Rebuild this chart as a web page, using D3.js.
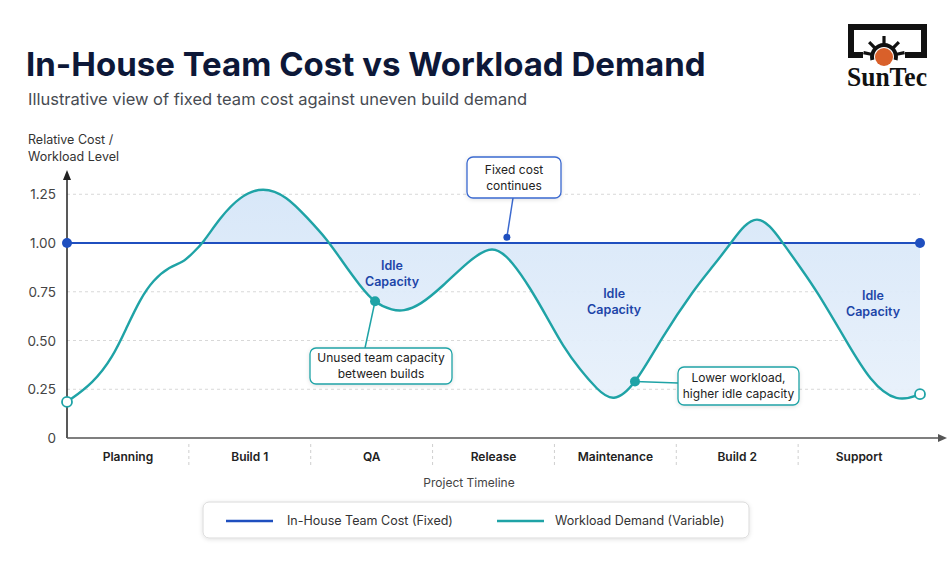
<!DOCTYPE html>
<html>
<head>
<meta charset="utf-8">
<script src="https://cdn.jsdelivr.net/npm/d3@7"></script>
<style>
  html, body { margin: 0; padding: 0; background: #ffffff; }
  svg { display: block; font-family: Inter, "Open Sans", sans-serif; }
</style>
</head>
<body>
<svg id="chart" width="952" height="562"></svg>
<script>
// ---------------- data ----------------
const categories = ["Planning", "Build 1", "QA", "Release", "Maintenance", "Build 2", "Support"];
const yTicks = [0, 0.25, 0.5, 0.75, 1.0, 1.25];
const yTickLabels = ["0", "0.25", "0.50", "0.75", "1.00", "1.25"];
// timeline position (in category units, 0..7) and workload demand level
const timeline = [0, 0.213, 0.377, 0.492, 0.599, 0.706, 0.845, 0.952, 1.034, 1.116, 1.256, 1.420,
  1.608, 1.805, 1.970, 2.134, 2.265, 2.405, 2.528, 2.675, 2.757, 2.897, 3.086, 3.283, 3.496,
  3.660, 3.800, 3.939, 4.070, 4.210, 4.349, 4.481, 4.661, 4.875, 5.154, 5.301, 5.449, 5.662,
  5.876, 6.023, 6.147, 6.393, 6.590, 6.811, 7.0];
const workload = [0.185, 0.28, 0.415, 0.57, 0.71, 0.81, 0.88, 0.90, 0.95, 1.0, 1.13, 1.24,
  1.29, 1.24, 1.13, 1.02, 0.90, 0.78, 0.69, 0.655, 0.65, 0.68, 0.78, 0.90, 1.0,
  0.90, 0.77, 0.62, 0.47, 0.35, 0.25, 0.18, 0.27, 0.51, 0.77, 0.88, 1.0, 1.18,
  1.0, 0.87, 0.76, 0.50, 0.29, 0.18, 0.225];
const fixedCost = [1.0, 1.0];          // start and end of timeline
const fixedCostTimeline = [0, 7];
const idleLabels = [
  { t: 2.667, v: 0.86 },
  { t: 4.49, v: 0.72 },
  { t: 6.614, v: 0.71 }
];
const seriesNames = ["In-House Team Cost (Fixed)", "Workload Demand (Variable)"];

// ---------------- setup ----------------
const svg = d3.select("#chart");
const W = 952, H = 562;
const BLUE = "#1f4fbf", TEAL = "#1fa3a6";
const x0 = 67, x1 = 920, yBase = 438;

const x = d3.scaleLinear().domain([0, 7]).range([x0, x1]);
const y = d3.scaleLinear().domain([0, 1.25]).range([yBase, yBase - 195 * 1.25]);
const band = d3.scaleBand().domain(categories).range([x0, x1]);
const smooth = d3.curveBasis;

const defs = svg.append("defs");
const shadow = defs.append("filter").attr("id", "shadow").attr("x", "-10%").attr("y", "-30%").attr("width", "120%").attr("height", "160%");
shadow.append("feDropShadow").attr("dx", 0).attr("dy", 1).attr("stdDeviation", 2).attr("flood-color", "#000").attr("flood-opacity", 0.12);
const fillGrad = defs.append("linearGradient").attr("id", "fillGrad").attr("x1", 0).attr("y1", 0).attr("x2", 0).attr("y2", 1);
fillGrad.append("stop").attr("offset", "0%").attr("stop-color", "#d6e6f8");
fillGrad.append("stop").attr("offset", "100%").attr("stop-color", "#e8f1fb");

// ---------------- title ----------------
svg.append("text").attr("x", 26).attr("y", 76)
  .attr("font-size", 33).attr("font-weight", 700).attr("fill", "#0d1838")
  .text("In-House Team Cost vs Workload Demand");
svg.append("text").attr("x", 28).attr("y", 105)
  .attr("font-size", 16.5).attr("fill", "#474b52")
  .text("Illustrative view of fixed team cost against uneven build demand");

// ---------------- logo ----------------
const logo = svg.append("g").attr("class", "logo");
logo.append("path")
  .attr("d", "M848,24 H927 V58 H905 V52 H921 V30 H854 V52 H863 V58 H848 Z")
  .attr("fill", "#111");
const cx = 884, cy = 57;
[-90, -45, -135, -12, -168].forEach(a => {
  const r = a * Math.PI / 180;
  logo.append("line")
    .attr("x1", cx + Math.cos(r) * 13).attr("y1", cy + Math.sin(r) * 13)
    .attr("x2", cx + Math.cos(r) * 21).attr("y2", cy + Math.sin(r) * 21)
    .attr("stroke", "#111").attr("stroke-width", 3.2);
});
logo.append("path")
  .attr("d", d3.arc().innerRadius(10).outerRadius(14).startAngle(-Math.PI / 2 - 0.25).endAngle(Math.PI / 2 + 0.25)())
  .attr("transform", `translate(${cx},${cy})`).attr("fill", "#111");
logo.append("circle").attr("cx", cx).attr("cy", cy).attr("r", 9).attr("fill", "#d9602a");
logo.append("text").attr("x", 847).attr("y", 86)
  .attr("font-family", "'Liberation Serif', 'DejaVu Serif', serif").attr("font-weight", 700)
  .attr("font-size", 28).attr("fill", "#111")
  .attr("textLength", 80).attr("lengthAdjust", "spacingAndGlyphs")
  .text("SunTec");

// ---------------- y axis title ----------------
svg.append("text").attr("x", 28).attr("y", 144).attr("font-size", 12.5).attr("fill", "#333").text("Relative Cost /");
svg.append("text").attr("x", 28).attr("y", 161).attr("font-size", 12.5).attr("fill", "#333").text("Workload Level");

// ---------------- grid ----------------
svg.append("g").selectAll("line").data(yTicks.filter(d => d !== 0 && d !== 1))
  .join("line")
  .attr("x1", x0).attr("x2", x1)
  .attr("y1", d => y(d)).attr("y2", d => y(d))
  .attr("stroke", "#d8d8d8").attr("stroke-dasharray", "3,3").attr("stroke-width", 1);

// y tick labels
svg.append("g").selectAll("text").data(yTicks)
  .join("text")
  .attr("x", 56).attr("y", d => y(d) + 5)
  .attr("text-anchor", "end").attr("font-size", 13.5).attr("fill", "#444")
  .text((d, i) => yTickLabels[i]);

// category separators and labels
svg.append("g").selectAll("line").data(categories.slice(1))
  .join("line")
  .attr("x1", d => band(d)).attr("x2", d => band(d))
  .attr("y1", yBase + 6).attr("y2", yBase + 30)
  .attr("stroke", "#cfcfcf").attr("stroke-dasharray", "3,3");
svg.append("g").selectAll("text").data(categories)
  .join("text")
  .attr("x", d => band(d) + band.bandwidth() / 2).attr("y", 461)
  .attr("text-anchor", "middle").attr("font-size", 12).attr("font-weight", 600).attr("fill", "#222")
  .text(d => d);
svg.append("text").attr("x", 469).attr("y", 487).attr("text-anchor", "middle")
  .attr("font-size", 12).attr("fill", "#444").text("Project Timeline");

// ---------------- idle capacity fill ----------------
const pts = timeline.map((t, i) => ({ t, v: workload[i] }));
const fillLayer = svg.append("g");

// ---------------- axes ----------------
svg.append("line").attr("x1", x0).attr("x2", x0).attr("y1", yBase).attr("y2", 176)
  .attr("stroke", "#222").attr("stroke-width", 1.5);
svg.append("path").attr("d", `M${x0 - 4},${180} L${x0},${170} L${x0 + 4},${180} Z`).attr("fill", "#222");
svg.append("line").attr("x1", x0).attr("x2", 940).attr("y1", yBase).attr("y2", yBase)
  .attr("stroke", "#555").attr("stroke-width", 1.5);
svg.append("path").attr("d", `M938,${yBase - 4} L947,${yBase} L938,${yBase + 4} Z`).attr("fill", "#555");

// ---------------- lines ----------------
const fixedPts = fixedCostTimeline.map((t, i) => ({ t, v: fixedCost[i] }));
svg.append("path").datum(fixedPts)
  .attr("d", d3.line().x(d => x(d.t)).y(d => y(d.v)))
  .attr("stroke", BLUE).attr("stroke-width", 2.2).attr("fill", "none");
const workPath = svg.append("path").datum(pts)
  .attr("d", d3.line().curve(smooth).x(d => x(d.t)).y(d => y(d.v)))
  .attr("stroke", TEAL).attr("stroke-width", 2.4).attr("fill", "none");

// sample the drawn curve
const node = workPath.node();
const L = node.getTotalLength();
const samples = [];
for (let s = 0; s <= L; s += 0.5) samples.push(node.getPointAtLength(s));
const curveYAt = px => samples.reduce((a, b) => Math.abs(b.x - px) < Math.abs(a.x - px) ? b : a).y;

// fill starts where workload first reaches the fixed-cost level
const cross = samples.find(p => p.y <= y(1));
const crossX = cross ? cross.x : x0;
defs.append("clipPath").attr("id", "fillClip")
  .append("rect").attr("x", crossX).attr("y", 0).attr("width", x(7) - crossX).attr("height", H);
fillLayer.append("path").datum(pts)
  .attr("clip-path", "url(#fillClip)")
  .attr("d", d3.area().curve(smooth).x(d => x(d.t)).y0(y(1)).y1(d => y(d.v)))
  .attr("fill", "url(#fillGrad)").attr("opacity", 0.95);

svg.append("g").selectAll("circle").data(fixedPts).join("circle")
  .attr("cx", d => x(d.t)).attr("cy", d => y(d.v)).attr("r", 5).attr("fill", BLUE);
svg.append("g").selectAll("circle").data([pts[0], pts[pts.length - 1]]).join("circle")
  .attr("cx", d => x(d.t)).attr("cy", d => y(d.v)).attr("r", 5)
  .attr("fill", "#fff").attr("stroke", TEAL).attr("stroke-width", 1.8);

// idle labels
idleLabels.forEach(l => {
  const g = svg.append("text").attr("text-anchor", "middle").attr("font-size", 12.5)
    .attr("font-weight", 600).attr("fill", "#1d45a8");
  g.append("tspan").attr("x", x(l.t)).attr("y", y(l.v)).text("Idle");
  g.append("tspan").attr("x", x(l.t)).attr("y", y(l.v) + 16).text("Capacity");
});

// ---------------- annotations ----------------
function callout(anchor, box, lines, color, dotR, dotColor, attach) {
  const ax = x(anchor.t);
  const ay = anchor.onCurve ? curveYAt(ax) : y(anchor.v);
  let lx, ly;
  if (attach === "bottom") { lx = box.x + box.w / 2 - 1; ly = box.y + box.h; }
  else if (attach === "top") { lx = box.x + 55; ly = box.y; }
  else { lx = box.x; ly = box.y + box.h / 2 - 3; }
  svg.append("line").attr("x1", ax).attr("y1", ay).attr("x2", lx).attr("y2", ly)
    .attr("stroke", color).attr("stroke-width", 1.5);
  svg.append("rect").attr("x", box.x).attr("y", box.y).attr("width", box.w).attr("height", box.h)
    .attr("rx", 6).attr("fill", "#fff").attr("stroke", color).attr("stroke-width", 1.3)
    .attr("filter", "url(#shadow)");
  const t = svg.append("text").attr("text-anchor", "middle").attr("font-size", 12).attr("fill", "#222");
  lines.forEach((s, i) => t.append("tspan").attr("x", box.x + box.w / 2)
    .attr("y", box.y + box.h / 2 - 4 + i * 16 - (lines.length - 1) * 8 + 8).text(s));
  svg.append("circle").attr("cx", ax).attr("cy", ay).attr("r", dotR).attr("fill", dotColor);
}
callout({ t: 3.61, v: 1.03 }, { x: 467, y: 157, w: 94, h: 41 }, ["Fixed cost", "continues"], "#3b69cf", 3.5, BLUE, "bottom");
callout({ t: 2.528, onCurve: true }, { x: 310, y: 348, w: 142, h: 36 }, ["Unused team capacity", "between builds"], TEAL, 5, TEAL, "top");
callout({ t: 4.661, onCurve: true }, { x: 678, y: 367, w: 121, h: 38 }, ["Lower workload,", "higher idle capacity"], TEAL, 5, TEAL, "left");

// ---------------- legend ----------------
const lg = svg.append("g");
lg.append("rect").attr("x", 203).attr("y", 502).attr("width", 546).attr("height", 36).attr("rx", 6)
  .attr("fill", "#fff").attr("stroke", "#dadada").attr("filter", "url(#shadow)");
const legendItems = [
  { name: seriesNames[0], color: BLUE, lx: 226, tx: 287 },
  { name: seriesNames[1], color: TEAL, lx: 497, tx: 555 }
];
legendItems.forEach(it => {
  lg.append("line").attr("x1", it.lx).attr("x2", it.lx + 47).attr("y1", 521).attr("y2", 521)
    .attr("stroke", it.color).attr("stroke-width", 2.5);
  lg.append("text").attr("x", it.tx).attr("y", 525).attr("font-size", 12.5).attr("fill", "#333").text(it.name);
});
</script>
</body>
</html>
